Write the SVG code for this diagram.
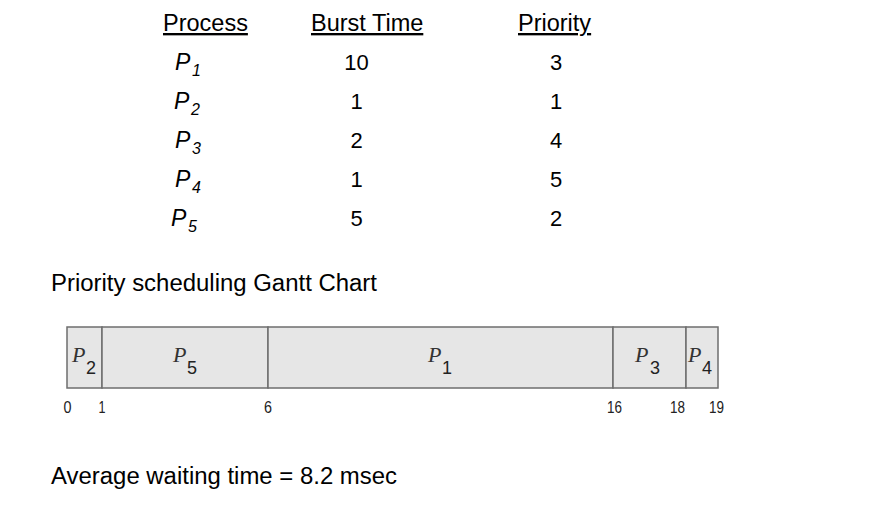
<svg xmlns="http://www.w3.org/2000/svg" width="881" height="517" viewBox="0 0 881 517">
<style>
.t{font-family:"Liberation Sans",Arial,sans-serif;fill:#000}
.h{font-size:23.5px;text-decoration:underline}
.n{font-size:22px;text-anchor:middle}
.p{font-size:23px;font-style:italic}
.s{font-size:16px;font-style:italic}
.cap{font-size:23px}
.bar{fill:#e6e6e6;stroke:#6e6e6e;stroke-width:1.5}
.gp{font-family:"Liberation Serif","Times New Roman",serif;font-style:italic;font-size:22px;fill:#333}
.gs{font-family:"Liberation Sans",Arial,sans-serif;font-size:18px;fill:#222}
.tk{font-family:"Liberation Sans Narrow","Liberation Sans",Arial,sans-serif;font-size:17px;fill:#222;text-anchor:middle}
</style>
<rect width="881" height="517" fill="#fff"/>
<g id="table">
<text class="t h" x="163" y="31">Process</text>
<text class="t h" x="311" y="31">Burst Time</text>
<text class="t h" x="518" y="31">Priority</text>
<text class="t p" x="175" y="70">P</text><text class="t s" x="192" y="76">1</text>
<text class="t p" x="174" y="109">P</text><text class="t s" x="191" y="115">2</text>
<text class="t p" x="175" y="148">P</text><text class="t s" x="192" y="154">3</text>
<text class="t p" x="175" y="187">P</text><text class="t s" x="192" y="193">4</text>
<text class="t p" x="171" y="226">P</text><text class="t s" x="188" y="232">5</text>
<text class="t n" x="356.5" y="70">10</text>
<text class="t n" x="356.5" y="109">1</text>
<text class="t n" x="356.5" y="148">2</text>
<text class="t n" x="356.5" y="187">1</text>
<text class="t n" x="356.5" y="226">5</text>
<text class="t n" x="556" y="70">3</text>
<text class="t n" x="556" y="109">1</text>
<text class="t n" x="556" y="148">4</text>
<text class="t n" x="556" y="187">5</text>
<text class="t n" x="556" y="226">2</text>
</g>
<text class="t cap" x="51" y="291" textLength="326" lengthAdjust="spacingAndGlyphs">Priority scheduling Gantt Chart</text>
<g id="gantt">
<g id="g-p2"><rect class="bar" x="67" y="327" width="35" height="61"/><text class="gp" x="72" y="362">P</text><text class="gs" x="86" y="374">2</text></g>
<g id="g-p5"><rect class="bar" x="102" y="327" width="166" height="61"/><text class="gp" x="173" y="362">P</text><text class="gs" x="187" y="374">5</text></g>
<g id="g-p1"><rect class="bar" x="268" y="327" width="345" height="61"/><text class="gp" x="428" y="362">P</text><text class="gs" x="442" y="374">1</text></g>
<g id="g-p3"><rect class="bar" x="613" y="327" width="73" height="61"/><text class="gp" x="635" y="362">P</text><text class="gs" x="650" y="374">3</text></g>
<g id="g-p4"><rect class="bar" x="686" y="327" width="32" height="61"/><text class="gp" x="688" y="362">P</text><text class="gs" x="702" y="374">4</text></g>
</g>
<g id="ticks">
<text class="tk" x="67.5" y="413" textLength="8" lengthAdjust="spacingAndGlyphs">0</text>
<text class="tk" x="102" y="413" textLength="7" lengthAdjust="spacingAndGlyphs">1</text>
<text class="tk" x="268" y="413" textLength="8" lengthAdjust="spacingAndGlyphs">6</text>
<text class="tk" x="614.5" y="413" textLength="15" lengthAdjust="spacingAndGlyphs">16</text>
<text class="tk" x="677.5" y="413" textLength="15" lengthAdjust="spacingAndGlyphs">18</text>
<text class="tk" x="716.5" y="413" textLength="15" lengthAdjust="spacingAndGlyphs">19</text>
</g>
<text class="t cap" x="51" y="484" textLength="346" lengthAdjust="spacingAndGlyphs">Average waiting time = 8.2 msec</text>
</svg>
